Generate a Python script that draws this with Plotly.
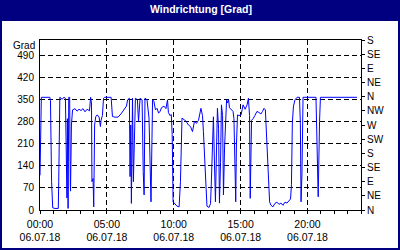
import plotly.graph_objects as go
import pandas as pd

# ---- data ----
minutes = [0, 2, 6, 44, 47, 52, 57, 67, 82, 84, 87, 89, 99, 108, 114, 118, 121, 123, 126, 129,
           133, 136, 137, 141, 146, 157, 166, 175, 184, 193, 202, 211, 222, 227, 231, 233, 238, 241,
           245, 250, 256, 265, 271, 274, 280, 285, 290, 319, 325, 336, 350, 363, 377, 388, 393, 401,
           404, 407, 410, 415, 419, 425, 428, 437, 442, 449, 458, 463, 467, 471, 480, 489, 495, 498,
           505, 511, 518, 525, 532, 538, 545, 556, 565, 572, 576, 583, 589, 593, 597, 606, 615, 624,
           630, 637, 646, 655, 666, 675, 684, 693, 702, 711, 722, 729, 733, 740, 745, 749, 758, 765,
           769, 774, 778, 783, 787, 792, 796, 801, 805, 810, 814, 819, 823, 828, 832, 837, 841, 846,
           850, 857, 866, 870, 875, 878, 881, 886, 893, 902, 911, 920, 929, 935, 940, 943, 949, 956,
           964, 973, 982, 991, 998, 1005, 1011, 1016, 1023, 1030, 1036, 1045, 1054, 1063, 1072, 1081,
           1090, 1099, 1108, 1117, 1124, 1128, 1132, 1137, 1144, 1153, 1164, 1168, 1171, 1175, 1180,
           1238, 1241, 1245, 1248, 1254, 1258, 1422]
direction = [110, 277, 358, 358, 347, 90, 7, 5, 5, 90, 270, 358, 352, 358, 355, 80, 38, 290, 5, 358,
             358, 80, 60, 270, 318, 322, 314, 320, 316, 322, 312, 320, 315, 358, 340, 90, 100, 10,
             270, 296, 302, 296, 265, 285, 300, 355, 358, 358, 297, 295, 295, 305, 320, 330, 350, 355,
             106, 270, 21, 355, 90, 281, 355, 350, 281, 355, 350, 122, 48, 355, 350, 292, 111, 26,
             350, 345, 318, 323, 308, 312, 325, 330, 322, 350, 310, 300, 303, 239, 26, 20, 12, 10,
             90, 292, 288, 282, 270, 265, 249, 282, 275, 285, 323, 300, 250, 159, 64, 12, 8, 20,
             95, 250, 296, 140, 26, 200, 323, 260, 22, 150, 334, 300, 48, 200, 290, 350, 340, 350,
             325, 318, 313, 290, 90, 26, 200, 302, 300, 302, 334, 320, 334, 355, 300, 37, 285, 290,
             300, 313, 310, 305, 313, 323, 318, 233, 100, 26, 15, 10, 21, 25, 18, 22,
             15, 25, 22, 30, 35, 80, 276, 330, 350, 358, 358, 276, 26, 111, 358,
             358, 281, 122, 42, 281, 358, 358]

day = "2018-07-06"
x_tick_hours = [0, 5, 10, 15, 20]
x_tick_text = ["00:00<br>06.07.18", "05:00<br>06.07.18", "10:00<br>06.07.18",
               "15:00<br>06.07.18", "20:00<br>06.07.18"]
left_ticks = [0, 70, 140, 210, 280, 350, 420, 490]
right_ticks = [0, 45, 90, 135, 180, 225, 270, 315, 360, 405, 450, 495, 540]
right_labels = ["N", "NE", "E", "SE", "S", "SW", "W", "NW", "N", "NE", "E", "SE", "S"]
title_text = "Windrichtung [Grad]"
unit_text = "Grad"

base = pd.Timestamp(day)
times = [base + pd.Timedelta(minutes=m) for m in minutes]
tickvals = [base + pd.Timedelta(hours=h) for h in x_tick_hours]

W, H = 400, 250
ML, MR, MT, MB = 40, 39, 40, 40
PW, PH = W - ML - MR, H - MT - MB

def px_x(p):
    return (p - ML) / PW

def px_y(p):
    return (H - MB - p) / PH

FONT = "Liberation Sans"
NAVY = "#000080"

fig = go.Figure()
fig.add_trace(go.Scatter(x=times, y=direction, mode="lines",
                         line=dict(color="#0000ff", width=1), showlegend=False))
fig.add_trace(go.Scatter(x=[times[0]], y=[0], yaxis="y2", mode="markers",
                         marker=dict(opacity=0), showlegend=False, hoverinfo="skip"))

fig.update_layout(
    width=W, height=H,
    margin=dict(l=ML, r=MR, t=MT, b=MB, pad=0, autoexpand=False),
    paper_bgcolor=NAVY,
    plot_bgcolor="white",
    font=dict(family=FONT, size=10, color="black"),
    xaxis=dict(
        type="date", automargin=False,
        range=[base, base + pd.Timedelta(hours=24)],
        tickmode="array", tickvals=tickvals, ticktext=x_tick_text,
        showgrid=True, gridcolor="black", gridwidth=1, griddash="5px,3px",
        showline=True, linecolor="black", linewidth=1, mirror=True,
        ticks="outside", ticklen=3, tickcolor="black", ticklabelstandoff=1,
        minor=dict(tickmode="linear", tick0=base, dtick=3600000, ticks="outside",
                   ticklen=3, tickcolor="black", showgrid=False),
        tickfont=dict(size=10.5, family=FONT, color="black"),
        zeroline=False, fixedrange=True,
    ),
    yaxis=dict(
        range=[0, 540], tickmode="array", tickvals=left_ticks, automargin=False,
        showgrid=True, gridcolor="black", gridwidth=1, griddash="5px,3px",
        showline=True, linecolor="black", linewidth=1,
        ticks="", ticklabelstandoff=3,
        tickfont=dict(size=10, family=FONT, color="black"),
        zeroline=False,
    ),
    yaxis2=dict(
        range=[0, 540], overlaying="y", side="right", anchor="x", automargin=False,
        tickmode="array", tickvals=right_ticks, ticktext=right_labels,
        showgrid=False, showline=True, linecolor="black", linewidth=1,
        ticks="outside", ticklen=3, tickcolor="black",
        tickfont=dict(size=10, family=FONT, color="black"),
        zeroline=False,
    ),
    shapes=[dict(type="rect", xref="paper", yref="paper", layer="below",
                 x0=px_x(2), x1=px_x(398), y0=px_y(248), y1=px_y(21),
                 fillcolor="white", line=dict(width=0))],
    annotations=[
        dict(text="<b>" + title_text + "</b>", xref="paper", yref="paper",
             x=px_x(201), y=px_y(9), xanchor="center", yanchor="middle",
             showarrow=False, font=dict(family=FONT, size=10.5, color="white")),
        dict(text=unit_text, xref="paper", yref="paper",
             x=px_x(37), y=px_y(45), xanchor="right", yanchor="middle",
             showarrow=False, font=dict(family=FONT, size=10, color="black")),
    ],
)

fig.write_html("out.html")
